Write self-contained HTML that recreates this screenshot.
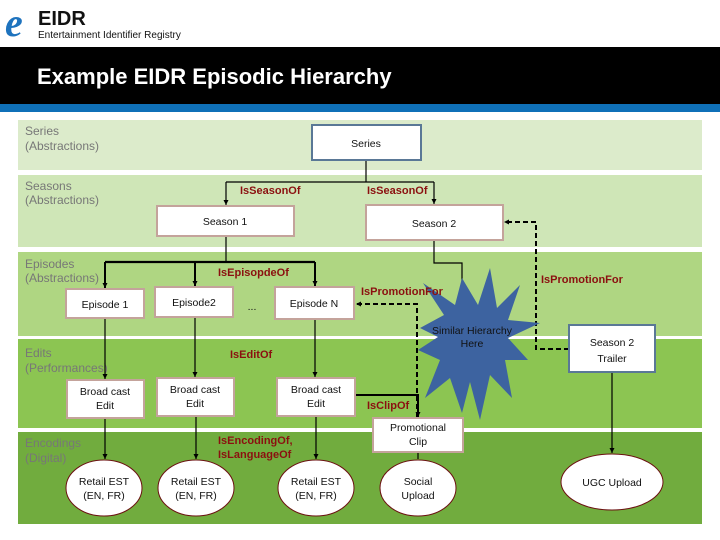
<!DOCTYPE html>
<html><head><meta charset="utf-8"><style>
body{margin:0;background:#fff;width:720px;height:540px;overflow:hidden}
svg{display:block}
.l{font-family:"Liberation Sans",sans-serif;font-size:12px;fill:#777}
.r{font-family:"Liberation Sans",sans-serif;font-size:11px;font-weight:bold;fill:#8b1010}
.n{font-family:"Liberation Sans",sans-serif;font-size:10.5px;fill:#111;text-anchor:middle}
</style></head><body>
<svg width="720" height="540" viewBox="0 0 720 540">
<defs><marker id="a" markerUnits="userSpaceOnUse" markerWidth="6" markerHeight="6" refX="5" refY="3" orient="auto"><path d="M0,0.5L5,3L0,5.5z" fill="#000"/></marker></defs>
<!-- header -->
<text x="5" y="36" font-family="Liberation Serif" font-style="italic" font-weight="bold" font-size="40" fill="#1e73be">e</text>
<text x="38" y="25" font-family="Liberation Sans" font-weight="bold" font-size="20" fill="#111">EIDR</text>
<text x="38" y="38" font-family="Liberation Sans" font-size="10" fill="#111">Entertainment Identifier Registry</text>
<rect x="0" y="47" width="720" height="57" fill="#000"/>
<rect x="0" y="104" width="720" height="8" fill="#0f70b8"/>
<text x="37" y="84" font-family="Liberation Sans" font-weight="bold" font-size="22" fill="#fff">Example EIDR Episodic Hierarchy</text>
<!-- bands -->
<rect x="18" y="120" width="684" height="50" fill="#dcebcb"/>
<rect x="18" y="175" width="684" height="72" fill="#cfe6b7"/>
<rect x="18" y="252" width="684" height="84" fill="#afd682"/>
<rect x="18" y="339" width="684" height="89" fill="#8cc552"/>
<rect x="18" y="432" width="684" height="92" fill="#71ac3e"/>
<text class="l" x="25" y="135">Series</text><text class="l" x="25" y="150">(Abstractions)</text>
<text class="l" x="25" y="190">Seasons</text><text class="l" x="25" y="204">(Abstractions)</text>
<text class="l" x="25" y="268">Episodes</text><text class="l" x="25" y="282">(Abstractions)</text>
<text class="l" x="25" y="357">Edits</text><text class="l" x="25" y="372">(Performances)</text>
<text class="l" x="25" y="447" fill="#8aa070">Encodings</text><text class="l" x="25" y="462" fill="#8aa070">(Digital)</text>
<!-- connectors -->
<g stroke="#000" stroke-width="1.2" fill="none">
<path d="M366,160V182"/><path d="M226,182H434"/>
<path d="M226,182V205" marker-end="url(#a)"/><path d="M434,182V204" marker-end="url(#a)"/>
<path d="M226,236V262"/><path d="M105,262H315" stroke-width="2.2"/>
<path d="M105,262V288" stroke-width="2" marker-end="url(#a)"/><path d="M195,262V286" stroke-width="2" marker-end="url(#a)"/><path d="M315,262V286" stroke-width="2" marker-end="url(#a)"/>
<path d="M434,240V263H462V282" />
<path d="M105,318V379" marker-end="url(#a)"/><path d="M195,317V377" marker-end="url(#a)"/><path d="M315,319V377" marker-end="url(#a)"/>
<path d="M105,418V459" marker-end="url(#a)"/><path d="M196,416V459" marker-end="url(#a)"/><path d="M316,416V459" marker-end="url(#a)"/>
<path d="M355,395H418V417" stroke-width="2" marker-end="url(#a)"/>
<path d="M418,452V459"/>
<path d="M612,372V453" marker-end="url(#a)"/>
<path d="M417,417V304H356" stroke-dasharray="5,3" stroke-width="2" marker-end="url(#a)"/>
<path d="M569,349H536V222H504" stroke-dasharray="5,3" stroke-width="2" marker-end="url(#a)"/>
</g>
<!-- star -->
<polygon fill="#3d63a0" points="490,268 497,308 520,285 508,320 540,323 508,338 528,360 505,360 512,398 490,375 480,420 470,382 462,413 450,378 425,398 440,360 418,350 438,337 420,328 444,315 423,283 455,305 462,278 478,305" />
<text class="n" x="472" y="334" font-size="10">Similar Hierarchy</text>
<text class="n" x="472" y="347" font-size="10">Here</text>
<!-- labels -->
<text class="r" x="240" y="194">IsSeasonOf</text>
<text class="r" x="367" y="194">IsSeasonOf</text>
<text class="r" x="218" y="276">IsEpisopdeOf</text>
<text class="r" x="361" y="295">IsPromotionFor</text>
<text class="r" x="541" y="283">IsPromotionFor</text>
<text class="r" x="230" y="358">IsEditOf</text>
<text class="r" x="367" y="409">IsClipOf</text>
<text class="r" x="218" y="444">IsEncodingOf,</text>
<text class="r" x="218" y="458">IsLanguageOf</text>
<!-- nodes -->
<g fill="#fff" stroke="#c4a39b" stroke-width="2">
<rect x="312" y="125" width="109" height="35" stroke="#5a7896"/>
<rect x="157" y="206" width="137" height="30"/>
<rect x="366" y="205" width="137" height="35"/>
<rect x="66" y="289" width="78" height="29"/>
<rect x="155" y="287" width="78" height="30"/>
<rect x="275" y="287" width="79" height="32"/>
<rect x="67" y="380" width="77" height="38"/>
<rect x="157" y="378" width="77" height="38"/>
<rect x="277" y="378" width="78" height="38"/>
<rect x="373" y="418" width="90" height="34"/>
<rect x="569" y="325" width="86" height="47" stroke="#5a7896"/>
</g>
<g fill="#fff" stroke="#6b1010" stroke-width="1">
<ellipse cx="104" cy="488" rx="38" ry="28"/><ellipse cx="196" cy="488" rx="38" ry="28"/>
<ellipse cx="316" cy="488" rx="38" ry="28"/><ellipse cx="418" cy="488" rx="38" ry="28"/>
<ellipse cx="612" cy="482" rx="51" ry="28"/>
</g>
<text class="n" x="366" y="147" font-size="13">Series</text>
<text class="n" x="225" y="225">Season 1</text>
<text class="n" x="434" y="227">Season 2</text>
<text class="n" x="105" y="308">Episode 1</text>
<text class="n" x="194" y="306">Episode2</text>
<text class="n" x="252" y="310">...</text>
<text class="n" x="314" y="307">Episode N</text>
<text class="n" x="105" y="395">Broad cast</text><text class="n" x="105" y="409">Edit</text>
<text class="n" x="195" y="393">Broad cast</text><text class="n" x="195" y="407">Edit</text>
<text class="n" x="316" y="393">Broad cast</text><text class="n" x="316" y="407">Edit</text>
<text class="n" x="418" y="431">Promotional</text><text class="n" x="418" y="445">Clip</text>
<text class="n" x="612" y="346" font-size="12">Season 2</text><text class="n" x="612" y="362" font-size="12">Trailer</text>
<text class="n" x="104" y="485">Retail EST</text><text class="n" x="104" y="499">(EN, FR)</text>
<text class="n" x="196" y="485">Retail EST</text><text class="n" x="196" y="499">(EN, FR)</text>
<text class="n" x="316" y="485">Retail EST</text><text class="n" x="316" y="499">(EN, FR)</text>
<text class="n" x="418" y="485">Social</text><text class="n" x="418" y="499">Upload</text>
<text class="n" x="612" y="486">UGC Upload</text>
</svg>
</body></html>
